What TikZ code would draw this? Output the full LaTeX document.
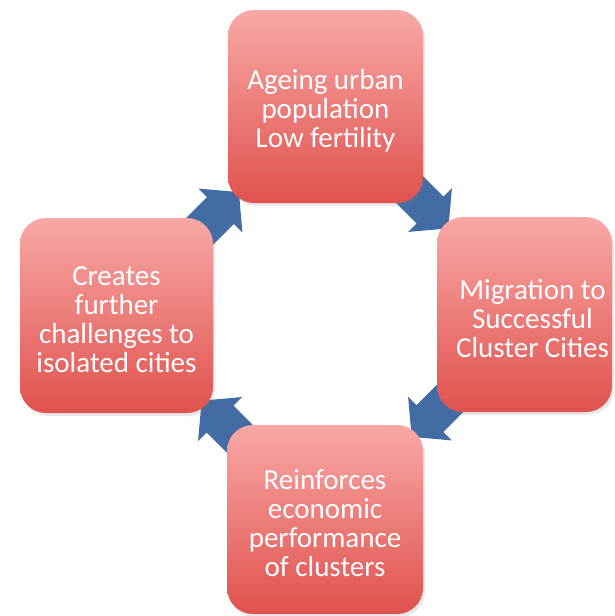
\documentclass[tikz,border=0pt]{standalone}
\usepackage{fontspec}
\setmainfont{Carlito}
\usetikzlibrary{calc,shadows}
\definecolor{boxtop}{RGB}{248,168,166}
\definecolor{boxbot}{RGB}{224,82,78}
\definecolor{arrowblue}{RGB}{68,108,164}
\newcommand\firstpad{\rule{0pt}{28pt}}
\tikzset{
  cyclebox/.style={rectangle, rounded corners=26pt, top color=boxtop, bottom color=boxbot,
    draw=none, text=white, align=center, inner sep=0pt,
    font=\fontsize{29}{29}\selectfont,
    drop shadow={opacity=0.18, shadow xshift=2pt, shadow yshift=-3pt}},
  cyclelabel/.style={text=white, align=center, inner sep=0pt, font=\fontsize{29}{29}\selectfont},
  blockarrow/.pic={
    \fill[arrowblue] (26,0) -- (0,31) -- (0,19) -- (-60,19) -- (-60,-19) -- (0,-19) -- (0,-31) -- cycle;
  }
}
\begin{document}
\begin{tikzpicture}[x=1pt,y=-1pt]
\fill[white] (0,0) rectangle (614,616);
\useasboundingbox (0,0) rectangle (614,616);
\path coordinate (ctop) at (325.5,106.5)
      coordinate (cright) at (524.5,314.5)
      coordinate (cbottom) at (325,519.5)
      coordinate (cleft) at (116.5,315.5);
% arrow anchor points: midpoints between facing corners
\coordinate (a1) at (430,210);
\coordinate (a2) at (430,418.5);
\coordinate (a3) at (220,419);
\coordinate (a4) at (220.5,210.5);
\pic[rotate=-45] at (a1) {blockarrow};
\pic[rotate=-135] at (a2) {blockarrow};
\pic[rotate=135] at (a3) {blockarrow};
\pic[rotate=45] at (a4) {blockarrow};
\node[cyclebox, minimum width=195pt, minimum height=193pt] (top) at (ctop)
  {\firstpad Ageing urban\\population\\Low fertility};
\node[cyclebox, minimum width=175pt, minimum height=195pt] (right) at (cright) {};
\node[cyclelabel] (rightlabel) at ([xshift=8pt]right.center)
  {\firstpad Migration to\\Successful\\Cluster Cities};
\node[cyclebox, minimum width=196pt, minimum height=189pt] (bottom) at (cbottom)
  {\firstpad Reinforces\\economic\\performance\\of clusters};
\node[cyclebox, minimum width=193pt, minimum height=195pt] (left) at (cleft)
  {\firstpad Creates\\further\\challenges to\\isolated cities};
\end{tikzpicture}
\end{document}
